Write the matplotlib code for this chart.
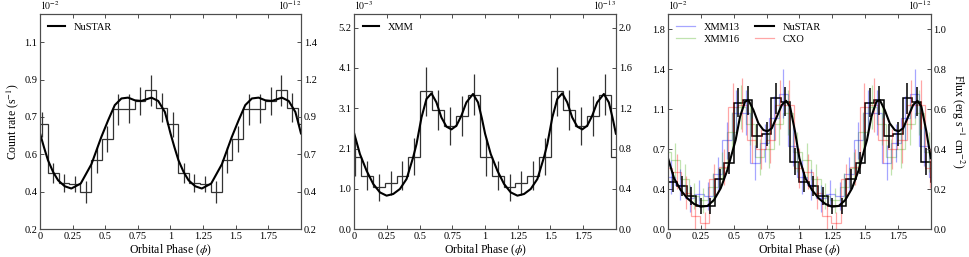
import matplotlib
matplotlib.use("Agg")
import matplotlib.pyplot as plt
import numpy as np

plt.rcParams["font.family"] = ["Liberation Serif", "DejaVu Serif"]
plt.rcParams["mathtext.fontset"] = "stix"

# ---- panel 1: NuSTAR count rate (x1e-2), 12 bins per cycle ----
nu_centers = np.arange(12) / 12 + 1 / 60
nu_rate = [0.705, 0.471, 0.423, 0.417, 0.38, 0.532, 0.634, 0.776, 0.78, 0.818, 0.868, 0.785]
nu_rate_err = [0.06, 0.05, 0.045, 0.04, 0.054, 0.062, 0.064, 0.076, 0.07, 0.068, 0.074, 0.068]
nu_curve_phase = [0.0, 0.03, 0.061, 0.1, 0.138, 0.189, 0.24, 0.312, 0.394, 0.47, 0.522, 0.573,
                  0.624, 0.675, 0.727, 0.777, 0.854, 0.906, 0.957, 0.98]
nu_curve_rate = [0.661, 0.595, 0.532, 0.476, 0.436, 0.407, 0.396, 0.42, 0.513, 0.644, 0.724, 0.797,
                 0.829, 0.833, 0.82, 0.817, 0.833, 0.817, 0.764, 0.71]

# ---- panel 2: XMM count rate (x1e-3), 11 bins per cycle ----
xmm_centers = np.arange(11) / 11 + 0.005
xmm_rate = [1.861, 1.374, 1.074, 1.187, 1.374, 1.861, 3.534, 3.057, 2.637, 2.911, 3.45]
xmm_rate_err = [0.49, 0.38, 0.34, 0.30, 0.37, 0.47, 0.63, 0.52, 0.49, 0.51, 0.53]
xmm_curve_phase = [0.0, 0.043, 0.094, 0.145, 0.196, 0.247, 0.298, 0.349, 0.4, 0.45, 0.476, 0.514,
                   0.552, 0.59, 0.628, 0.666, 0.705, 0.743, 0.781, 0.819, 0.857, 0.908, 0.946, 0.975]
xmm_curve_rate = [2.45, 1.93, 1.502, 1.161, 0.946, 0.862, 0.905, 1.033, 1.29, 1.843, 2.186, 2.867,
                  3.339, 3.483, 3.252, 2.867, 2.629, 2.56, 2.655, 2.911, 3.252, 3.467, 3.252, 2.85]

# ---- panel 3: flux-scaled light curves (x1e-2), 14 bins per cycle ----
fl_centers = (np.arange(14) + 0.5) / 14
x13_flux = [0.47, 0.40, 0.28, 0.32, 0.30, 0.50, 0.80, 1.05, 1.05, 0.60, 0.78, 1.00, 1.22, 0.75]
x13_err = [0.15, 0.14, 0.12, 0.12, 0.13, 0.15, 0.17, 0.20, 0.20, 0.16, 0.17, 0.20, 0.22, 0.18]
x16_flux = [0.62, 0.45, 0.30, 0.26, 0.38, 0.55, 0.88, 1.10, 0.95, 0.65, 0.72, 0.95, 1.05, 0.70]
x16_err = [0.16, 0.14, 0.12, 0.11, 0.13, 0.15, 0.18, 0.20, 0.19, 0.16, 0.17, 0.19, 0.20, 0.18]
cxo_flux = [0.52, 0.33, 0.12, 0.06, 0.45, 0.56, 1.10, 1.12, 0.80, 0.72, 0.80, 1.12, 1.12, 0.55]
cxo_err = [0.16, 0.15, 0.12, 0.10, 0.14, 0.16, 0.22, 0.24, 0.20, 0.18, 0.20, 0.22, 0.22, 0.18]
nu_flux = [0.43, 0.39, 0.30, 0.21, 0.21, 0.45, 0.60, 1.14, 1.16, 0.84, 0.86, 1.18, 1.15, 0.61]
nu_flux_err = [0.09, 0.09, 0.08, 0.07, 0.07, 0.09, 0.10, 0.13, 0.13, 0.11, 0.11, 0.14, 0.13, 0.12]
fl_curve_phase = [0.0, 0.046, 0.096, 0.147, 0.198, 0.249, 0.3, 0.35, 0.401, 0.452, 0.49, 0.515,
                  0.548, 0.586, 0.612, 0.65, 0.688, 0.726, 0.756, 0.79, 0.828, 0.866, 0.899,
                  0.929, 0.967]
fl_curve = [0.64, 0.459, 0.354, 0.279, 0.228, 0.204, 0.21, 0.264, 0.369, 0.534, 0.698, 0.804,
            1.013, 1.148, 1.164, 1.074, 0.954, 0.894, 0.882, 0.909, 1.013, 1.119, 1.157,
            1.103, 0.88]

xticks = [0, 0.25, 0.5, 0.75, 1, 1.25, 1.5, 1.75]
xticklabels = ["0", "0.25", "0.5", "0.75", "1", "1.25", "1.5", "1.75"]

SPINE = "0.3"
TICKSIZE = 7.5
LABELSIZE = 8.5


def draw_hist(ax, centers, vals, errs, color, alpha=1.0, lw=0.9, label=None):
    # phase-folded data drawn over several cycles, clipped by the x limits
    width = centers[1] - centers[0]
    shifts = (-1, 0, 1, 2)
    c = np.concatenate([np.asarray(centers) + s for s in shifts])
    v = np.tile(vals, len(shifts))
    e = np.tile(errs, len(shifts))
    edges = np.append(c - width / 2, c[-1] + width / 2)
    ax.stairs(v, edges, baseline=None, color=color, alpha=alpha, lw=lw, label=label)
    ax.errorbar(c, v, yerr=e, fmt="none", ecolor=color, alpha=alpha,
                elinewidth=lw, capsize=0)


def draw_curve(ax, phase, vals, label=None):
    ph = np.concatenate([phase, np.asarray(phase) + 1, [2.0]])
    v = np.concatenate([vals, vals, [vals[0]]])
    return ax.plot(ph, v, color="black", lw=1.5, label=label, zorder=5)[0]


def style_axes(ax, lticks, lstep, rstep, rlo, top, lexp, rexp):
    ax.set_xlim(0, 2)
    lo = lticks[0]
    ax.set_ylim(lo, top)
    ax.set_xticks(xticks)
    ax.set_xticklabels(xticklabels)
    ax.set_yticks(lticks)
    ax.set_yticklabels(["%.1f" % t for t in lticks])
    ax.tick_params(direction="in", top=True, right=False, labelsize=TICKSIZE,
                   length=3, width=0.7, color=SPINE, pad=2)
    for s in ax.spines.values():
        s.set_color(SPINE)
        s.set_linewidth(0.8)
    ax.set_xlabel(r"Orbital Phase ($\phi$)", fontsize=LABELSIZE, labelpad=1)
    ax2 = ax.twinx()
    scale = rstep / lstep
    ax2.set_ylim(rlo, rlo + (top - lo) * scale)
    rticks = [rlo + rstep * k for k in range(len(lticks))]
    ax2.set_yticks(rticks)
    ax2.set_yticklabels(["%.1f" % t for t in rticks])
    ax2.tick_params(direction="in", labelsize=TICKSIZE, length=3, width=0.7,
                    color=SPINE, pad=2)
    for s in ax2.spines.values():
        s.set_color(SPINE)
        s.set_linewidth(0.8)
    ax.annotate(lexp, xy=(0, 1), xycoords="axes fraction", xytext=(0, 1.5),
                textcoords="offset points", ha="left", va="bottom", fontsize=7)
    ax.annotate(rexp, xy=(1, 1), xycoords="axes fraction", xytext=(0, 1.5),
                textcoords="offset points", ha="right", va="bottom", fontsize=7)
    return ax2


fig = plt.figure(figsize=(9.69, 2.57), dpi=100)
bottom, height = 0.1078, 0.8377
ax1 = fig.add_axes([0.0413, bottom, 0.2693, height])
ax2 = fig.add_axes([0.3656, bottom, 0.2700, height])
ax3 = fig.add_axes([0.6894, bottom, 0.2711, height])

# panel 1
draw_hist(ax1, nu_centers, nu_rate, nu_rate_err, "0.2")
draw_curve(ax1, nu_curve_phase, nu_curve_rate, label="NuSTAR")
style_axes(ax1, [0.2 + 0.18 * k for k in range(6)], 0.18, 0.24, 0.2, 1.235,
           r"$10^{-2}$", r"$10^{-12}$")
ax1.set_ylabel(r"Count rate (s$^{-1}$)", fontsize=LABELSIZE, labelpad=2)
ax1.legend(loc="upper left", frameon=False, fontsize=TICKSIZE, handlelength=1.6,
           borderaxespad=0.4)

# panel 2
draw_hist(ax2, xmm_centers, xmm_rate, xmm_rate_err, "0.2")
draw_curve(ax2, xmm_curve_phase, xmm_curve_rate, label="XMM")
style_axes(ax2, [6.2 / 6 * k for k in range(6)], 6.2 / 6, 0.4, 0.0, 5.516,
           r"$10^{-3}$", r"$10^{-13}$")
ax2.legend(loc="upper left", frameon=False, fontsize=TICKSIZE, handlelength=1.6,
           borderaxespad=0.4)

# panel 3
draw_hist(ax3, fl_centers - 0.015, x13_flux, x13_err, "blue", alpha=0.35, label="XMM13")
draw_hist(ax3, fl_centers + 0.02, x16_flux, x16_err, "#4caf1a", alpha=0.35, label="XMM16")
draw_hist(ax3, fl_centers + 0.03, cxo_flux, cxo_err, "red", alpha=0.35, label="CXO")
draw_hist(ax3, fl_centers, nu_flux, nu_flux_err, "black", lw=1.1)
draw_curve(ax3, fl_curve_phase, fl_curve, label="NuSTAR")
r3 = style_axes(ax3, [0.36 * k for k in range(6)], 0.36, 0.2, 0.0, 1.938,
                r"$10^{-2}$", r"$10^{-12}$")
r3.set_ylabel(r"Flux (erg s$^{-1}$ cm$^{-2}$)", fontsize=LABELSIZE, rotation=270, labelpad=14)
h, l = ax3.get_legend_handles_labels()
order = [l.index(n) for n in ["XMM13", "XMM16", "NuSTAR", "CXO"]]
ax3.legend([h[i] for i in order], [l[i] for i in order], loc="upper left", ncol=2,
           frameon=False, fontsize=TICKSIZE, handlelength=1.8, borderaxespad=0.4,
           columnspacing=1.5, labelspacing=0.3)

fig.savefig("out.png", dpi=100)
